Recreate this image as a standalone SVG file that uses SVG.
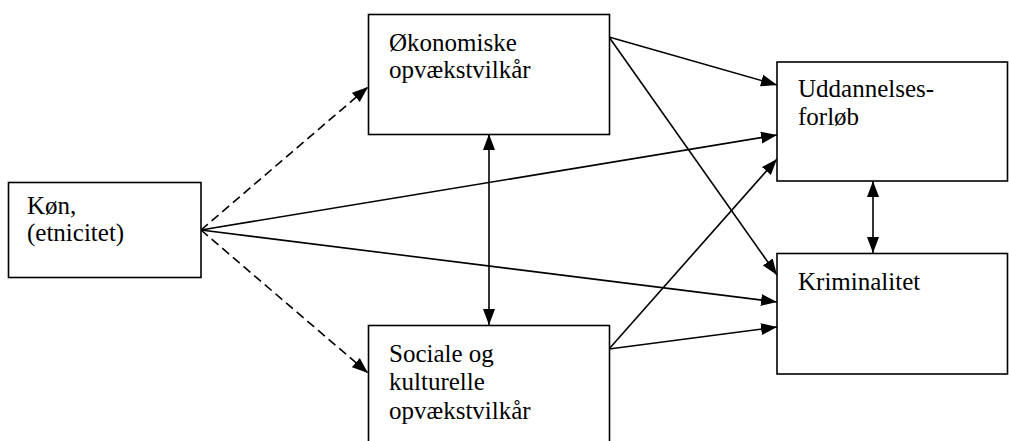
<svg xmlns="http://www.w3.org/2000/svg" width="1009" height="441" viewBox="0 0 1009 441">
<style>
.box{fill:#fff;stroke:#000;stroke-width:1.6}
.t{font-size:25px;fill:#000}
.c{stroke:#000;stroke-width:1.6;fill:none;marker-end:url(#ah)}
.d{stroke-dasharray:9 5}
.b{marker-start:url(#ah)}
</style>
<defs>
<marker id="ah" markerUnits="userSpaceOnUse" markerWidth="17" markerHeight="13" refX="16" refY="6.5" orient="auto-start-reverse" viewBox="0 0 17 13">
<path d="M0,0.5 L16,6.5 L0,12.5 z" fill="#000"/>
</marker>
</defs>
<g id="connectors">
<line class="c d" x1="201" y1="230" x2="368" y2="87"/>
<line class="c d" x1="201" y1="230" x2="368" y2="373"/>
<line class="c" x1="201" y1="230" x2="777" y2="135"/>
<line class="c" x1="201" y1="230" x2="777" y2="302"/>
<line class="c" x1="609" y1="37" x2="777" y2="85"/>
<line class="c" x1="609" y1="37" x2="777" y2="275"/>
<line class="c" x1="609" y1="349" x2="777" y2="159"/>
<line class="c" x1="609" y1="349" x2="777" y2="327"/>
<line class="c b" x1="489" y1="134" x2="489" y2="325"/>
<line class="c b" x1="873" y1="181" x2="873" y2="253"/>
</g>
<g id="kon" font-family="Liberation Serif, Times New Roman, serif">
<rect class="box" x="8.5" y="182.5" width="192.5" height="95"/>
<text class="t" x="27" y="214">Køn,</text>
<text class="t" x="27" y="241">(etnicitet)</text>
</g>
<g id="okonomiske" font-family="Liberation Serif, Times New Roman, serif">
<rect class="box" x="368.5" y="14.5" width="241" height="120"/>
<text class="t" x="389" y="51">Økonomiske</text>
<text class="t" x="389" y="78">opvækstvilkår</text>
</g>
<g id="sociale" font-family="Liberation Serif, Times New Roman, serif">
<rect class="box" x="368.5" y="325.5" width="241" height="130"/>
<text class="t" x="389" y="362">Sociale og</text>
<text class="t" x="389" y="390">kulturelle</text>
<text class="t" x="389" y="419">opvækstvilkår</text>
</g>
<g id="uddannelse" font-family="Liberation Serif, Times New Roman, serif">
<rect class="box" x="777" y="62" width="230.5" height="119"/>
<text class="t" x="798" y="97">Uddannelses-</text>
<text class="t" x="798" y="125">forløb</text>
</g>
<g id="kriminalitet" font-family="Liberation Serif, Times New Roman, serif">
<rect class="box" x="777" y="253.5" width="230.5" height="120.5"/>
<text class="t" x="798" y="290">Kriminalitet</text>
</g>
</svg>
